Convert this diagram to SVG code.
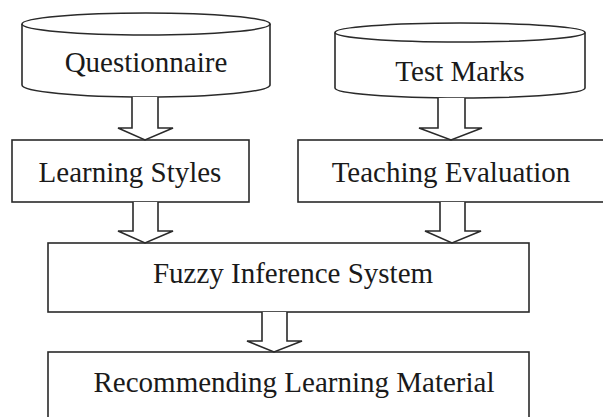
<svg xmlns="http://www.w3.org/2000/svg" width="603" height="417" viewBox="0 0 603 417">
<style>
.shape{fill:#fff;stroke:#2a2a2a;stroke-width:1.6}
.arrow{fill:#fff;stroke:#2a2a2a;stroke-width:1.6;stroke-linejoin:miter}
.lbl{font-family:"Liberation Serif","Times New Roman",serif;font-size:29px;fill:#1a1a1a;text-anchor:middle}
</style>
<rect width="603" height="417" fill="#fff"/>
<g id="questionnaire">
<path class="shape" d="M22,24 L22,85 A124,12 0 0 0 270,85 L270,24"/>
<ellipse class="shape" cx="146" cy="24" rx="124" ry="11"/>
<text class="lbl" x="146" y="72">Questionnaire</text>
</g>
<g id="test-marks">
<path class="shape" d="M335,32.5 L335,88 A125,10 0 0 0 585,88 L585,32.5"/>
<ellipse class="shape" cx="460" cy="32.5" rx="125" ry="9.5"/>
<text class="lbl" x="460" y="81">Test Marks</text>
</g>
<g id="learning-styles">
<rect class="shape" x="12" y="140" width="237" height="62"/>
<text class="lbl" x="130" y="182">Learning Styles</text>
</g>
<g id="teaching-evaluation">
<rect class="shape" x="298" y="140" width="320" height="62"/>
<text class="lbl" x="451" y="182">Teaching Evaluation</text>
</g>
<g id="fuzzy-inference-system">
<rect class="shape" x="48" y="243" width="481" height="69"/>
<text class="lbl" x="293" y="283">Fuzzy Inference System</text>
</g>
<g id="recommending-learning-material">
<rect class="shape" x="48" y="352" width="481" height="80"/>
<text class="lbl" x="294" y="392">Recommending Learning Material</text>
</g>
<g id="connectors">
<path class="arrow" d="M132,97 L132,128 L118,128 L145,140 L173,128 L158,128 L158,97"/>
<path class="arrow" d="M438,98 L438,128 L419,128 L451,140 L482,128 L465,128 L465,98"/>
<path class="arrow" d="M133,202 L133,231 L118,231 L145,243 L173,231 L158,231 L158,202"/>
<path class="arrow" d="M440,202 L440,231 L425,231 L452,243 L481,231 L465,231 L465,202"/>
<path class="arrow" d="M262,312 L262,341 L247,341 L274,352 L302,341 L287,341 L287,312"/>
</g>
</svg>
